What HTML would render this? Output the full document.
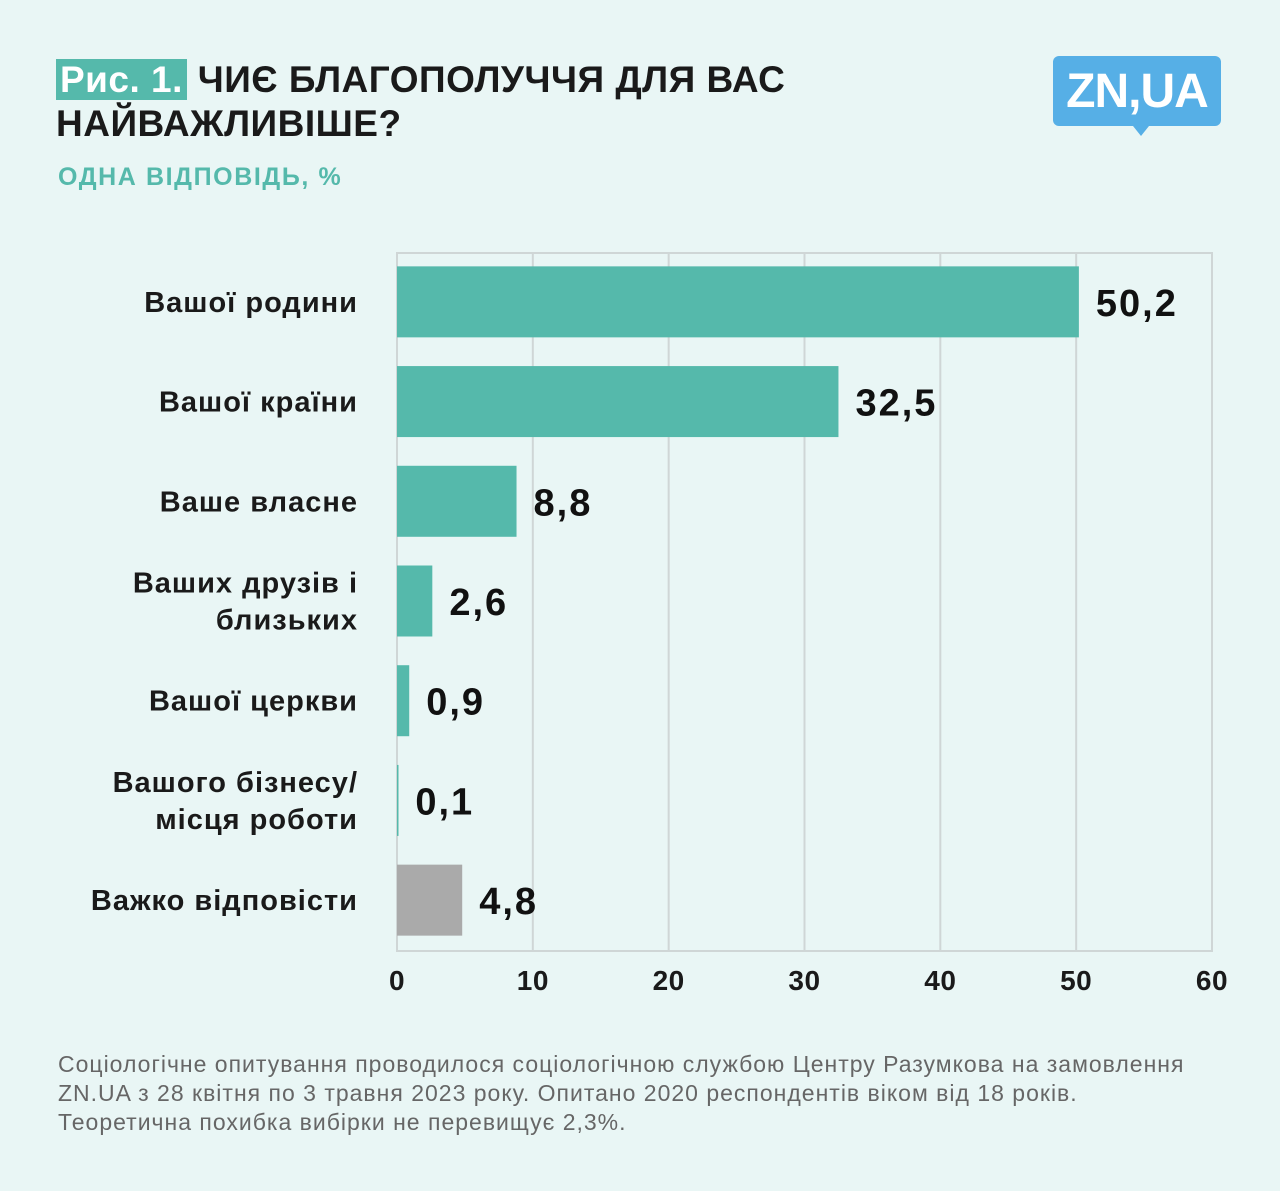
<!DOCTYPE html>
<html><head><meta charset="utf-8"><style>
body{margin:0;width:1280px;height:1191px;background:#e9f6f5;font-family:"Liberation Sans","DejaVu Sans",sans-serif;position:relative;overflow:hidden}
.title{position:absolute;left:56px;top:58px;font-size:37px;font-weight:bold;color:#1a1a1a;line-height:44px;letter-spacing:0.5px}
.tag{background:#55b9ab;color:#fff;padding:0 4px}
.sub{position:absolute;left:58px;top:163px;font-size:25px;font-weight:bold;color:#55b9ab;letter-spacing:1.6px}
.logo{position:absolute;left:1053px;top:56px;width:168px;height:70px;background:#56afe6;border-radius:6px;color:#fff;font-weight:bold;font-size:48px;line-height:72px;text-align:center;letter-spacing:-1px}
.logo:after{content:"";position:absolute;left:80px;top:70px;border-left:8px solid transparent;border-right:8px solid transparent;border-top:10px solid #56afe6}
.foot{position:absolute;left:58px;top:1050px;font-size:23px;color:#666;line-height:29px;letter-spacing:1px;white-space:nowrap}
</style></head><body>
<div class="title"><span class="tag">Рис. 1.</span> ЧИЄ БЛАГОПОЛУЧЧЯ ДЛЯ ВАС<br>НАЙВАЖЛИВІШЕ?</div>
<div class="sub">ОДНА ВІДПОВІДЬ, %</div>
<div class="logo">ZN,UA</div>
<svg id="chart" width="1280" height="1191" style="position:absolute;left:0;top:0"></svg>
<div class="foot">Соціологічне опитування проводилося соціологічною службою Центру Разумкова на замовлення<br>ZN.UA з 28 квітня по 3 травня 2023 року. Опитано 2020 респондентів віком від 18 років.<br>Теоретична похибка вибірки не перевищує 2,3%.</div>
<script>
const categories=[["Вашої родини"],["Вашої країни"],["Ваше власне"],["Ваших друзів і","близьких"],["Вашої церкви"],["Вашого бізнесу/","місця роботи"],["Важко відповісти"]];
const values=[50.2,32.5,8.8,2.6,0.9,0.1,4.8];
const valueLabels=["50,2","32,5","8,8","2,6","0,9","0,1","4,8"];
const ticks=[0,10,20,30,40,50,60];
const NS="http://www.w3.org/2000/svg";
const svg=document.getElementById('chart');
const x0=397,x1=1212,yTop=253,yBot=951;
const xs=v=>x0+v/60*(x1-x0);
const band=(yBot-yTop)/categories.length;
function mk(t,a){const e=document.createElementNS(NS,t);for(const k in a)e.setAttribute(k,a[k]);svg.appendChild(e);return e;}
const frame=mk('rect',{x:x0,y:yTop,width:x1-x0,height:yBot-yTop,fill:'none',stroke:'#cfd6d6','stroke-width':2});


ticks.forEach(t=>{
  const l=mk('line',{x1:xs(t),x2:xs(t),y1:yTop,y2:yBot,stroke:'#cfd6d6','stroke-width':2});
  
  
  const tx=mk('text',{x:xs(t),y:990,'text-anchor':'middle','font-size':28,'font-weight':'bold',fill:'#1a1a1a','letter-spacing':0.5});
  tx.textContent=t;
  
  
});
values.forEach((v,i)=>{
  const cy=yTop+band*(i+0.5)-1;
  const r=mk('rect',{x:x0,y:cy-35.5,width:Math.max(xs(v)-x0,1.5),height:71,fill:i===6?'#aaaaaa':'#55b9ab'});
  
  
  const vl=mk('text',{x:xs(v)+17,y:cy+14,'font-size':38,'font-weight':'bold',fill:'#111','letter-spacing':2});
  vl.textContent=valueLabels[i];
  
  
  const lines=categories[i];
  lines.forEach((s,j)=>{
    const y=cy+10+(j-(lines.length-1)/2)*37;
    const c=mk('text',{x:358,y:y,'text-anchor':'end','font-size':29,'font-weight':'bold',fill:'#1a1a1a','letter-spacing':1});
    c.textContent=s;
    
    
  });
});
</script>
</body></html>
